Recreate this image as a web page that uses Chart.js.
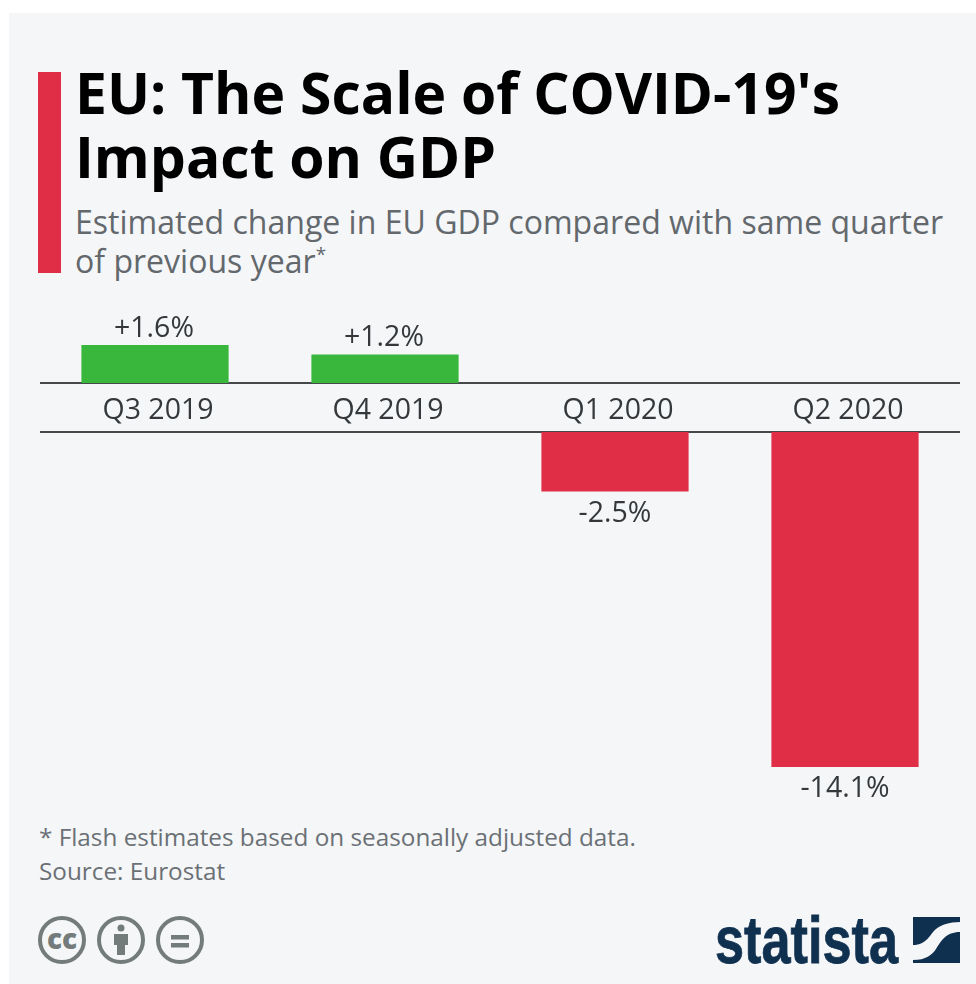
<!DOCTYPE html>
<html>
<head>
<meta charset="utf-8">
<script src="https://cdn.jsdelivr.net/npm/chart.js@4"></script>
<style>
  html, body { margin: 0; padding: 0; background: #fff; }
  body { width: 976px; height: 984px; position: relative; overflow: hidden; font-family: "Open Sans", sans-serif; }
  #panel { position: absolute; left: 9px; top: 13px; right: 0; bottom: 0; background: #f4f6f8; }
  #accent { position: absolute; left: 38px; top: 72px; width: 23px; height: 201px; background: #e02e47; }
  #title { position: absolute; left: 75px; top: 60px; font-size: 57px; line-height: 64px; font-weight: 700; color: #000; white-space: nowrap; }
  #subtitle { position: absolute; left: 75px; top: 202px; font-size: 32.05px; line-height: 39px; color: #63686d; white-space: nowrap; }
  #subtitle sup { font-size: 19px; line-height: 0; }
  #footer { position: absolute; left: 39px; top: 820px; font-size: 24.3px; line-height: 34px; color: #6b7075; white-space: nowrap; }
  canvas { position: absolute; left: 40px; }
  #topChart { top: 300px; }
  #bottomChart { top: 430px; }
  svg { position: absolute; }
</style>
</head>
<body>
<div id="panel"></div>
<div id="accent"></div>
<div id="title">EU: The Scale of COVID-19's<br>Impact on GDP</div>
<div id="subtitle">Estimated change in EU GDP compared with same quarter<br>of previous year<sup>*</sup></div>
<div id="footer">* Flash estimates based on seasonally adjusted data.<br>Source: Eurostat</div>

<canvas id="topChart" width="920" height="132"></canvas>
<canvas id="bottomChart" width="920" height="382"></canvas>

<!-- licence icons -->
<svg style="left:36px;top:914px" width="172" height="52" viewBox="0 0 172 52">
  <g fill="none" stroke="#737b7b" stroke-width="4">
    <circle cx="26" cy="26" r="22"/>
    <circle cx="85" cy="26" r="22"/>
    <circle cx="144" cy="26" r="22"/>
  </g>
  <text x="26" y="35" text-anchor="middle" font-family="Open Sans" font-weight="800" font-size="28" fill="#737b7b">cc</text>
  <circle cx="85" cy="14" r="3.5" fill="#737b7b"/>
  <path d="M78 20H92V31H89V41H81V31H78Z" fill="#737b7b"/>
  <rect x="135" y="21" width="18" height="4.5" fill="#737b7b"/>
  <rect x="135" y="29" width="18" height="4.5" fill="#737b7b"/>
</svg>

<!-- statista logo -->
<svg style="left:710px;top:905px" width="260" height="70" viewBox="0 0 260 70">
  <text x="5" y="58" font-family="Liberation Sans Narrow, Liberation Sans" font-weight="700" font-size="66" fill="#10304f" stroke="#10304f" stroke-width="0.8" textLength="183" lengthAdjust="spacingAndGlyphs">statista</text>
  <g transform="translate(203,12)" fill="#10304f">
    <path d="M0 0H47V5C36 5 28 8 23 12C17 17 14 28 0 28Z"/>
    <path d="M47 15V46H0V43C13 43 19 38 23 32C28 24 33 15 47 15Z"/>
  </g>
</svg>

<script>
const quarters = ["Q3 2019", "Q4 2019", "Q1 2020", "Q2 2020"];
const gdpChange = [1.6, 1.2, -2.5, -14.1];
const valueLabels = ["+1.6%", "+1.2%", "-2.5%", "-14.1%"];

const green = "#38b73c";
const red = "#e02e47";
const lineColor = "#45494c";
const labelColor = "#34383b";
const labelFont = { family: "Open Sans", size: 28.5 };

/* value labels above / below the bars */
const valueLabelPlugin = {
  id: "valueLabels",
  afterDatasetsDraw(chart) {
    const ctx = chart.ctx;
    ctx.save();
    ctx.font = labelFont.size + "px " + labelFont.family;
    ctx.fillStyle = labelColor;
    ctx.textAlign = "center";
    chart.getDatasetMeta(0).data.forEach((bar, i) => {
      const v = chart.data.datasets[0].data[i];
      if (v === null) return;
      if (v > 0) {
        ctx.textBaseline = "bottom";
        ctx.fillText(valueLabels[i], bar.x - 1, bar.y - 2);
      } else {
        ctx.textBaseline = "top";
        ctx.fillText(valueLabels[i], bar.x, bar.y + 8);
      }
    });
    ctx.restore();
  }
};

function barDataset(values, colors) {
  return {
    data: values,
    backgroundColor: colors,
    barPercentage: 0.64,
    categoryPercentage: 1,
    borderWidth: 0
  };
}

const sharedOptions = {
  responsive: false,
  animation: false,
  plugins: { legend: { display: false }, tooltip: { enabled: false } }
};

/* the positive half sits above the quarter labels */
new Chart(document.getElementById("topChart"), {
  type: "bar",
  data: {
    labels: quarters,
    datasets: [barDataset(gdpChange.map(v => v > 0 ? v : null), green)]
  },
  options: {
    ...sharedOptions,
    layout: { padding: 0 },
    scales: {
      x: {
        grid: { display: false, drawTicks: false },
        border: { display: true, color: lineColor, width: 2 },
        ticks: { color: labelColor, font: labelFont, padding: 11, maxRotation: 0, labelOffset: 3 },
        afterFit: axis => { axis.height = 49; }
      },
      y: { display: false, min: 0, max: 3.5 }
    }
  },
  plugins: [valueLabelPlugin]
});

/* the negative half hangs from the line below the quarter labels */
new Chart(document.getElementById("bottomChart"), {
  type: "bar",
  data: {
    labels: quarters,
    datasets: [barDataset(gdpChange.map(v => v < 0 ? v : null), red)]
  },
  options: {
    ...sharedOptions,
    layout: { padding: { top: 2 } },
    scales: {
      x: {
        position: "top",
        grid: { display: false, drawTicks: false },
        border: { display: true, color: lineColor, width: 2 },
        ticks: { display: false }
      },
      y: { display: false, min: -16, max: 0 }
    }
  },
  plugins: [valueLabelPlugin]
});
</script>
</body>
</html>
